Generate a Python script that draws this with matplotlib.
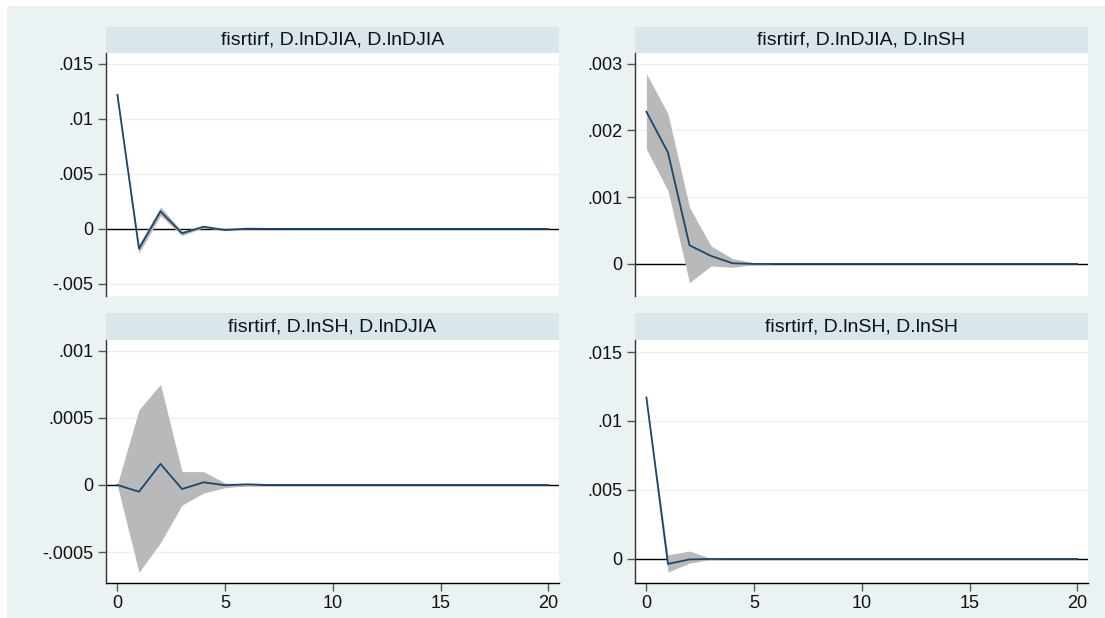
import matplotlib
matplotlib.use("Agg")
import matplotlib.pyplot as plt
from matplotlib.patches import Rectangle

plt.rcParams['font.family'] = ['Liberation Sans', 'DejaVu Sans']

steps = list(range(21))
Z = [0.0] * 14

titles = ["fisrtirf, D.lnDJIA, D.lnDJIA", "fisrtirf, D.lnDJIA, D.lnSH",
          "fisrtirf, D.lnSH, D.lnDJIA", "fisrtirf, D.lnSH, D.lnSH"]

irf_dj_dj = [0.0122, -0.0018, 0.0016, -0.0004, 0.0002, -0.0001, 0.00002] + Z
lo_dj_dj = [0.01215, -0.0022, 0.0012, -0.0006, 0.0001, -0.00015, 0.0] + Z
hi_dj_dj = [0.01225, -0.0014, 0.0020, -0.0002, 0.0003, -0.00005, 0.00004] + Z

irf_dj_sh = [0.00228, 0.00167, 0.00028, 0.00012, 0.00001, 0.0, 0.0] + Z
lo_dj_sh = [0.00172, 0.00110, -0.00028, -0.00003, -0.00005, -0.00001, 0.0] + Z
hi_dj_sh = [0.00285, 0.00225, 0.00085, 0.00027, 0.00008, 0.00002, 0.0] + Z

irf_sh_dj = [0.0, -0.00005, 0.000157, -0.00003, 0.00002, -0.000002, 0.000005] + Z
lo_sh_dj = [-0.000005, -0.00065, -0.00043, -0.00015, -0.00006, -0.00002, -0.000005] + Z
hi_sh_dj = [0.000005, 0.00056, 0.00075, 0.0001, 0.0001, 0.000015, 0.000008] + Z

irf_sh_sh = [0.0117, -0.00036, -0.00003, 0.0, 0.0, 0.0, 0.0] + Z
lo_sh_sh = [0.01168, -0.00094, -0.0003, -0.00003, 0.0, 0.0, 0.0] + Z
hi_sh_sh = [0.01172, 0.0003, 0.00058, 0.00003, 0.0, 0.0, 0.0] + Z

yticks_tl = [-0.005, 0.0, 0.005, 0.01, 0.015]
ylabels_tl = ["-.005", "0", ".005", ".01", ".015"]
yticks_tr = [0.0, 0.001, 0.002, 0.003]
ylabels_tr = ["0", ".001", ".002", ".003"]
yticks_bl = [-0.0005, 0.0, 0.0005, 0.001]
ylabels_bl = ["-.0005", "0", ".0005", ".001"]
yticks_br = [0.0, 0.005, 0.01, 0.015]
ylabels_br = ["0", ".005", ".01", ".015"]
xticks = [0, 5, 10, 15, 20]

BG = "#eaf2f3"
TITLEBG = "#d9e6eb"
LINE = "#1a476f"
BAND = "#b9b9b9"

W, H = 1105, 618
fig = plt.figure(figsize=(W / 100, H / 100), dpi=100)
fig.patches.append(Rectangle((7 / W, 0), 1 - 7 / W, 1 - 6 / H, transform=fig.transFigure,
                             facecolor=BG, edgecolor="none", zorder=-10))

# (plot left, bar top, plot top, right, plot bottom, ...)
panels = [
    (106, 27, 53, 559, 296, irf_dj_dj, lo_dj_dj, hi_dj_dj, yticks_tl, ylabels_tl, (-0.0061, 0.016), False),
    (635, 27, 53, 1088, 296, irf_dj_sh, lo_dj_sh, hi_dj_sh, yticks_tr, ylabels_tr, (-0.00048, 0.00316), False),
    (106, 313, 340, 559, 583, irf_sh_dj, lo_sh_dj, hi_sh_dj, yticks_bl, ylabels_bl, (-0.00073, 0.00108), True),
    (635, 313, 340, 1088, 583, irf_sh_sh, lo_sh_sh, hi_sh_sh, yticks_br, ylabels_br, (-0.00174, 0.01587), True),
]

for i, (x0, tb, y0, x1, y1, irf, lo, hi, yt, yl, ylim, bottom) in enumerate(panels):
    ax = fig.add_axes([x0 / W, 1 - y1 / H, (x1 - x0) / W, (y1 - y0) / H])
    ax.set_facecolor("white")
    ax.fill_between(steps, lo, hi, color=BAND, linewidth=0, zorder=2)
    ax.axhline(0, color="black", linewidth=1.0, zorder=1.5)
    ax.plot(steps, irf, color=LINE, linewidth=1.3, zorder=3)
    ax.set_xlim(-0.53, 20.5)
    ax.set_ylim(*ylim)
    ax.set_yticks(yt)
    ax.set_yticklabels(yl)
    ax.grid(axis="y", color=BG, linewidth=1.0, zorder=0)
    ax.set_axisbelow(True)
    for s in ["top", "right"]:
        ax.spines[s].set_visible(False)
    ax.spines["left"].set_color("#333333")
    ax.spines["left"].set_linewidth(1.0)
    if bottom:
        ax.set_xticks(xticks)
        ax.set_xticklabels([str(v) for v in xticks])
        ax.spines["bottom"].set_color("black")
        ax.spines["bottom"].set_linewidth(1.0)
    else:
        ax.set_xticks([])
        ax.spines["bottom"].set_visible(False)
    ax.tick_params(axis="both", length=6, width=1.0, color="#555555", labelsize=13,
                   labelcolor="#111111", pad=3)
    # title bar
    fig.patches.append(Rectangle((x0 / W, 1 - y0 / H), (x1 - x0) / W, (y0 - tb) / H,
                                 transform=fig.transFigure, facecolor=TITLEBG,
                                 edgecolor="none", zorder=-5))
    fig.text((x0 + x1) / 2 / W, 1 - (tb + y0) / 2 / H, titles[i], ha="center", va="center",
             fontsize=14, color="#111111")

fig.savefig("out.png", dpi=100, facecolor="white")
